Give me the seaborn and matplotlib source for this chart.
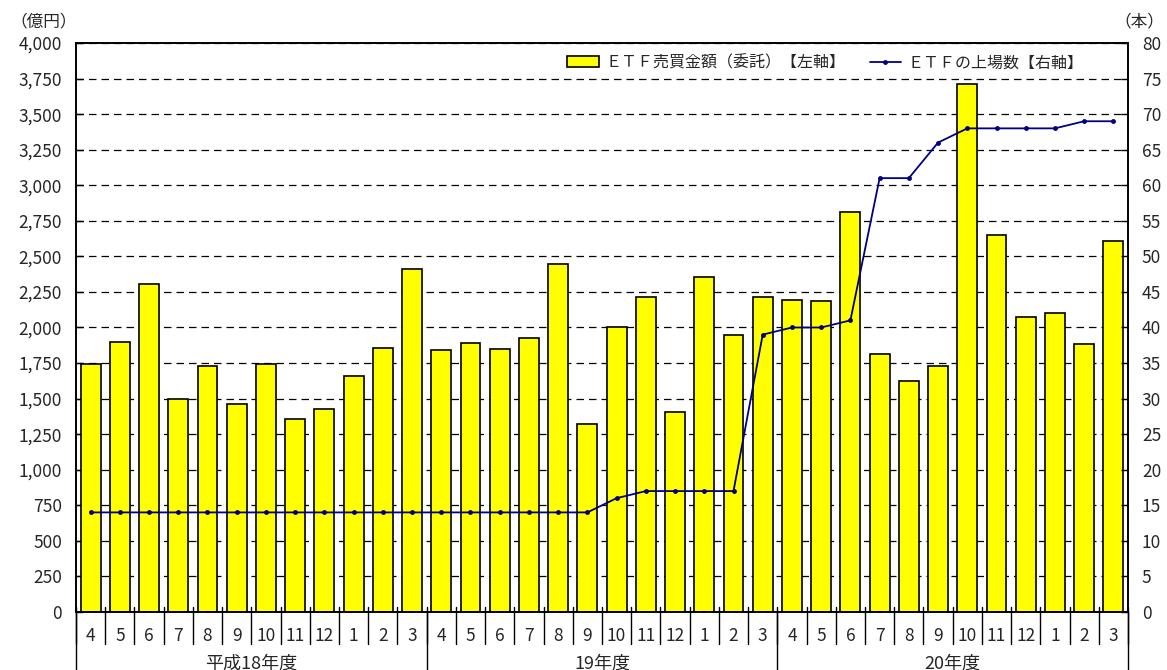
import numpy as np
import pandas as pd
import matplotlib
matplotlib.use("Agg")
import matplotlib.pyplot as plt
from matplotlib.ticker import FuncFormatter, MultipleLocator
from matplotlib.lines import Line2D
from matplotlib.patches import Patch
import seaborn as sns

# ============================================================
# データ
# ============================================================
months = [4, 5, 6, 7, 8, 9, 10, 11, 12, 1, 2, 3] * 3
fiscal_years = ["平成18年度", "19年度", "20年度"]

# ETF売買金額（委託）【億円】
amount = [1740, 1900, 2305, 1500, 1730, 1465, 1740, 1355, 1426, 1662, 1855, 2411,
          1839, 1890, 1848, 1928, 2446, 1320, 2000, 2214, 1407, 2358, 1944, 2216,
          2194, 2185, 2815, 1811, 1624, 1731, 3713, 2647, 2077, 2103, 1881, 2610]

# ETFの上場数【本】
listings = [14, 14, 14, 14, 14, 14, 14, 14, 14, 14, 14, 14,
            14, 14, 14, 14, 14, 14, 16, 17, 17, 17, 17, 39,
            40, 40, 41, 61, 61, 66, 68, 68, 68, 68, 69, 69]

label_amount = "ＥＴＦ売買金額（委託）【左軸】"
label_count = "ＥＴＦの上場数【右軸】"

BAR_COLOR = "#FFFF00"
LINE_COLOR = "#000080"

# ============================================================
# スタイル
# ============================================================
sns.set_style("white")
plt.rcParams['font.family'] = ['Noto Sans CJK JP', 'DejaVu Sans']
plt.rcParams['axes.unicode_minus'] = False

df = pd.DataFrame({
    "idx": np.arange(len(amount)),
    "month": months,
    "amount": amount,
    "listings": listings,
})

fig = plt.figure(figsize=(11.67, 6.70), dpi=100)
ax = fig.add_axes([0.0651, 0.0866, 0.9015, 0.8492])

# 棒グラフ（左軸）
sns.barplot(data=df, x="idx", y="amount", color=BAR_COLOR, saturation=1,
            edgecolor="black", linewidth=1.2, width=0.68, ax=ax)
ax.set_xlim(-0.5, len(amount) - 0.5)
ax.set_ylim(0, 4000)
ax.yaxis.set_major_locator(MultipleLocator(250))
ax.yaxis.set_major_formatter(FuncFormatter(lambda v, p: f"{int(v):,}"))
ax.set_axisbelow(True)
ax.grid(axis="y", color="black", linestyle=(0, (6, 4)), linewidth=0.9)
ax.grid(axis="x", visible=False)
ax.set_xlabel("")
ax.set_ylabel("")
ax.set_xticks(df["idx"])
ax.set_xticklabels(df["month"])
ax.tick_params(axis="x", length=0, pad=11, labelsize=12.5)
ax.tick_params(axis="y", direction="in", length=5, width=1, pad=10,
               labelsize=12.5, color="black")

# 折れ線（右軸）
ax2 = ax.twinx()
sns.lineplot(data=df, x="idx", y="listings", ax=ax2, color=LINE_COLOR,
             linewidth=1.3, marker="o", markersize=3.5, markeredgewidth=0)
ax2.set_ylim(0, 80)
ax2.yaxis.set_major_locator(MultipleLocator(5))
ax2.set_ylabel("")
ax2.set_xlabel("")
ax2.tick_params(axis="y", direction="in", length=5, width=1, pad=10,
                labelsize=12.5, color="black")

for a in (ax, ax2):
    for s in a.spines.values():
        s.set_color("black")
        s.set_linewidth(1.2)

# 月の区切り線と年度の区切り線
tr = ax.get_xaxis_transform()
for b in np.arange(-0.5, len(amount), 1):
    ax.plot([b, b], [0.009, -0.057], transform=tr, color="black",
            lw=1, clip_on=False)
for b in [-0.5, 11.5, 23.5, 35.5]:
    ax.plot([b, b], [0, -0.2], transform=tr, color="black",
            lw=1, clip_on=False)
for g, name in enumerate(fiscal_years):
    ax.text(g * 12 + 5.5, -0.09, name, transform=tr, ha="center",
            va="center", fontsize=13)

# 単位
fig.text(0.009, 0.968, "（億円）", ha="left", va="center", fontsize=12)
fig.text(0.998, 0.968, "（本）", ha="right", va="center", fontsize=12)

# 凡例
handles = [
    Patch(facecolor=BAR_COLOR, edgecolor="black", linewidth=1.2, label=label_amount),
    Line2D([], [], color=LINE_COLOR, lw=1.3, marker="o", markersize=3.5,
           markeredgewidth=0, label=label_count),
]
ax2.legend(handles=handles, loc="center right", bbox_to_anchor=(0.958, 0.965),
           ncol=2, frameon=False, fontsize=11.5, handlelength=2.0,
           handleheight=0.7, columnspacing=1.5, handletextpad=0.4,
           borderaxespad=0, borderpad=0)

fig.savefig("out.png", dpi=100)
